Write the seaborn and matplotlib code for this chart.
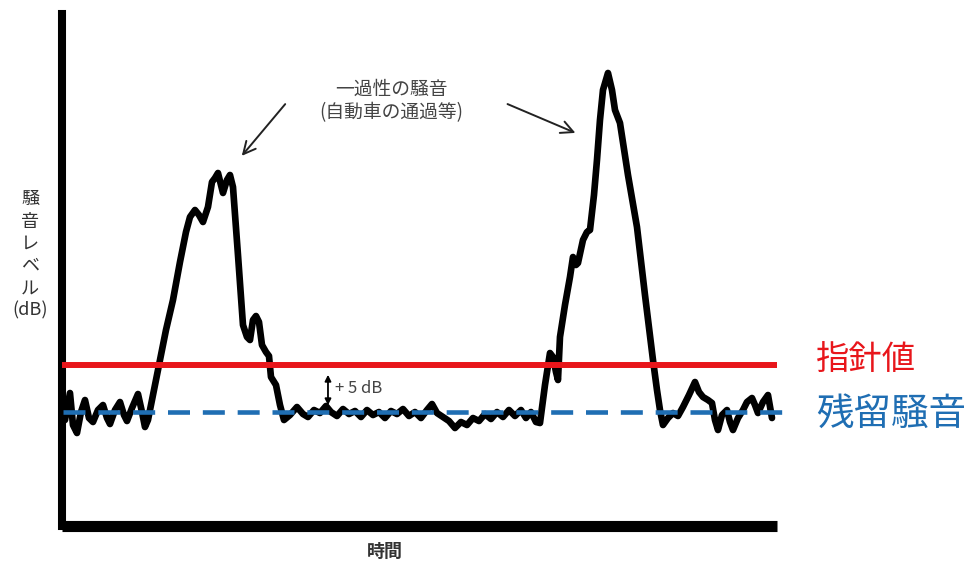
import matplotlib
matplotlib.use("Agg")
import matplotlib.pyplot as plt
import seaborn as sns
import pandas as pd

# 時間(任意単位) と 騒音レベル(任意単位) -- 図から読み取った値
jikan = [2, 7, 10, 14, 18, 22, 26, 30, 35, 40, 44, 47, 52, 57, 61, 64, 69, 75, 79, 82, 85,
         92, 97, 103, 110, 117, 123, 127, 132, 136, 140, 145, 149, 152, 155, 160, 164, 167, 170,
         175, 180, 184, 187, 190, 193, 196, 199, 203, 206, 208, 213, 217, 221, 227, 234, 240, 245,
         251, 257, 263, 268, 274, 280, 286, 292, 298, 304, 310, 316, 322, 328, 334, 340, 346, 352,
         358, 364, 369, 374, 380, 386, 392, 398, 404, 410, 416, 422, 428, 434, 440, 446, 452, 458,
         463, 468, 473, 477, 482, 487, 490, 493, 495, 497, 502, 507, 510, 513, 515, 520, 524, 527,
         531, 534, 537, 540, 545, 549, 552, 557, 565, 574, 582, 590, 594, 597, 600, 605, 610, 615,
         620, 626, 632, 636, 640, 645, 649, 652, 655, 659, 664, 667, 670, 675, 680, 684, 689, 692,
         695, 700, 705, 709]
level = [105, 132, 100, 92, 113, 125, 107, 103, 115, 120, 107, 101, 115, 123, 110, 104, 117, 131, 113, 98, 105,
         140, 165, 195, 225, 263, 293, 308, 315, 310, 303, 318, 343, 347, 352, 332, 345, 350, 338,
         270, 200, 188, 185, 205, 209, 203, 180, 173, 169, 148, 140, 120, 105, 110, 118, 111, 108,
         115, 112, 119, 113, 109, 116, 111, 114, 108, 115, 110, 113, 107, 114, 111, 116, 109, 113,
         107, 115, 121, 112, 108, 104, 97, 103, 100, 107, 104, 111, 106, 113, 108, 115, 109, 115,
         107, 113, 103, 102, 140, 172, 168, 153, 145, 188, 220, 248, 268, 260, 262, 285, 293, 295,
         330, 365, 405, 435, 452, 435, 415, 402, 350, 298, 230, 165, 135, 115, 100, 107, 112, 109,
         118, 130, 143, 133, 128, 125, 122, 105, 95, 110, 115, 103, 95, 107, 115, 123, 127, 120,
         112, 123, 130, 107]

shishin = 160     # 指針値
zanryu = 113      # 残留騒音

df = pd.DataFrame({"jikan": jikan, "level": level})

sns.set_style("white")
plt.rcParams["font.family"] = ["Noto Sans CJK JP", "DejaVu Sans"]

fig = plt.figure(figsize=(9.67, 5.68), dpi=100)
ax = fig.add_axes([0.0641, 0.0739, 0.7394, 0.9015])

sns.lineplot(data=df, x="jikan", y="level", color="black", linewidth=4.8, ax=ax, zorder=2)

ax.axhline(shishin, color="#e8161b", linewidth=4.3, zorder=3)
ax.plot([0, 727], [zanryu, zanryu], color="#1f6eb3", linewidth=3.3, linestyle=(0, (4.8, 2.8)),
        clip_on=False, zorder=3)

ax.set_xlim(-1, 714)
ax.set_ylim(-1, 511)
ax.set_xticks([])
ax.set_yticks([])
ax.set_xlabel("")
ax.set_ylabel("")
for s in ["top", "right"]:
    ax.spines[s].set_visible(False)
ax.spines["left"].set_linewidth(5.8)
ax.spines["bottom"].set_linewidth(8)
ax.spines["left"].set_color("black")
ax.spines["bottom"].set_color("black")
ax.spines["left"].set_capstyle("projecting")
ax.spines["bottom"].set_capstyle("butt")

# 右側ラベル
ax.text(753, 165, "指針値", color="#e8161b", fontsize=24, va="center", ha="left")
ax.text(753, 111, "残留騒音", color="#1f6eb3", fontsize=27, va="center", ha="left")

# 注釈
ax.text(328, 424, "一過性の騒音\n(自動車の通過等)", fontsize=13.5, color="#444444",
        ha="center", va="center", linespacing=1.15)
ax.annotate("", xy=(177, 367), xytext=(224, 423),
            arrowprops=dict(arrowstyle="->", color="#222222", lw=1.4, mutation_scale=22))
ax.annotate("", xy=(515, 391), xytext=(442, 422),
            arrowprops=dict(arrowstyle="->", color="#222222", lw=1.4, mutation_scale=22))

# +5dB
ax.annotate("", xy=(265, 153), xytext=(265, 117),
            arrowprops=dict(arrowstyle="<|-|>", color="black", lw=1.3, mutation_scale=9))
ax.text(272, 137, "+ 5 dB", fontsize=12, color="#444444", ha="left", va="center")

# 軸ラベル
fig.text(30 / 967, 1 - 255 / 568, "騒\n音\nレ\nベ\nル\n(dB)", fontsize=13, color="#333333",
         ha="center", va="center", linespacing=1.3)
fig.text(385 / 967, 1 - 551 / 568, "時間", fontsize=13, fontweight="bold", color="#333333",
         ha="center", va="center")

fig.savefig("out.png", dpi=100)
